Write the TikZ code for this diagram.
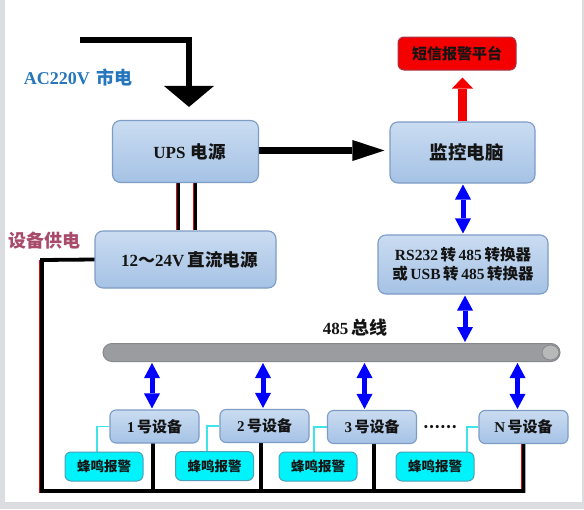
\documentclass[tikz,border=0pt]{standalone}
\usepackage{fontspec}
\setmainfont{Liberation Serif}
\newfontfamily\cjk{Noto Sans CJK SC}
\usetikzlibrary{arrows.meta,backgrounds}
\definecolor{bggrey}{HTML}{DCDDE0}
\definecolor{boxtop}{HTML}{CADCF1}
\definecolor{boxbot}{HTML}{A5C2E5}
\definecolor{boxedge}{HTML}{7D9CC6}
\definecolor{txt}{HTML}{141414}
\definecolor{redfill}{HTML}{F40000}
\definecolor{rededge}{HTML}{A0384A}
\definecolor{cyanfill}{HTML}{00F2FA}
\definecolor{cyanedge}{HTML}{4F9FB8}
\definecolor{busfill}{HTML}{9B9C9F}
\definecolor{busedge}{HTML}{86888C}
\definecolor{capfill}{HTML}{B8B8B8}
\definecolor{arrblue}{HTML}{0000FF}
\definecolor{labblue}{HTML}{2576BD}
\definecolor{mauve}{HTML}{A84A6A}
\definecolor{cyanline}{HTML}{3FE3EA}
\definecolor{wirered}{HTML}{D01010}
\tikzset{
  bluebox/.style={draw=boxedge, line width=1.1pt, rounded corners=8pt,
    top color=boxtop, bottom color=boxbot, text=txt, inner sep=0pt,
    font=\bfseries\fontsize{17}{20}\selectfont},
  devbox/.style={bluebox, rounded corners=6pt, minimum width=89pt, minimum height=33pt,
    font=\bfseries\fontsize{15}{18}\selectfont},
  redbox/.style={draw=rededge, line width=1pt, rounded corners=6pt, fill=redfill,
    text=txt, inner sep=0pt, font=\bfseries\fontsize{15}{18}\selectfont},
  buzbox/.style={draw=cyanedge, line width=1pt, rounded corners=6pt, fill=cyanfill,
    text=txt, inner sep=0pt, minimum width=78pt, minimum height=29pt,
    font=\bfseries\fontsize{13.5}{16}\selectfont},
  busbar/.style={draw=busedge, line width=1pt, fill=busfill, rounded corners=9pt, inner sep=0pt},
  plainlab/.style={inner sep=0pt, text=txt, font=\bfseries\fontsize{17}{20}\selectfont},
  wire/.style={line width=3.8pt, draw=black, line join=miter, line cap=rect},
  redstripe/.style={line width=1.1pt, draw=wirered},
  cyanwire/.style={line width=1.6pt, draw=cyanline},
  barrow/.style={draw=arrblue, line width=5pt,
    {Triangle[length=15pt,width=16pt,line width=0pt]}-{Triangle[length=15pt,width=16pt,line width=0pt]},
    shorten <=1pt, shorten >=1pt},
  fatarrow/.style={draw=black, line width=7pt,
    -{Triangle[length=32pt,width=21pt,line width=0pt]}},
  acarrow/.style={draw=black, line width=6pt, line join=miter,
    -{Triangle[length=21pt,width=50pt,line width=0pt]}},
  redarrow/.style={draw=redfill, line width=9pt,
    -{Triangle[length=11pt,width=21pt,line width=0pt]}},
}
\begin{document}
\begin{tikzpicture}[x=1pt,y=-1pt]
\useasboundingbox (0,0) rectangle (584,509);
% boxes
\node[bluebox, minimum width=146pt, minimum height=62pt] (ups) at (185.5,151.5)
  {\hspace{8pt}UPS\hspace{0.3em}{\cjk\fontsize{17.5}{20}\selectfont 电源}};
\node[bluebox, minimum width=181pt, minimum height=57pt] (dc) at (185.5,259.5)
  {\hspace{8pt}\fontsize{17}{20}\selectfont 12{\cjk ～}24V\hspace{0.2em}{\cjk\fontsize{17.5}{20}\selectfont 直流电源}};
\node[bluebox, minimum width=145pt, minimum height=61pt] (mon) at (462.5,152.5)
  {\hspace{8pt}{\cjk\fontsize{18.5}{20}\selectfont 监控电脑}};
\node[redbox, minimum width=118pt, minimum height=33pt] (sms) at (457,53.5)
  {{\cjk 短信报警平台}};
\node[bluebox, minimum width=170pt, minimum height=59pt, align=center,
  font=\bfseries\fontsize{15.5}{19}\selectfont] (conv) at (463,264.5)
  {RS232\,{\cjk 转}\,485\,{\cjk 转换器}\\{\cjk 或}\,USB\,{\cjk 转}\,485\,{\cjk 转换器}};
\node[busbar, minimum width=457pt, minimum height=18pt] (bus) at (331.5,352.5) {};
\filldraw[fill=capfill, draw=busedge, line width=0.8pt] (550.5,352.5) ellipse [x radius=8.5, y radius=7.5];
\node[plainlab] (buslab) at (355,328) {485\,{\cjk\fontsize{18}{20}\selectfont 总线}};
\node[devbox] (d1) at (154.5,426.5) {1\,{\cjk 号设备}};
\node[devbox] (d2) at (264.5,426) {2\,{\cjk 号设备}};
\node[devbox] (d3) at (372,427) {3\,{\cjk 号设备}};
\node[devbox] (dn) at (523.5,427) {N\,{\cjk 号设备}};
\node[plainlab, font=\bfseries\fontsize{15}{18}\selectfont] (dots) at (440,427) {{\cjk ……}};
\node[buzbox] (b1) at (104,466.5) {{\cjk 蜂鸣报警}};
\node[buzbox] (b2) at (214.5,466) {{\cjk 蜂鸣报警}};
\node[buzbox] (b3) at (318,466.5) {{\cjk 蜂鸣报警}};
\node[buzbox] (b4) at (435,466.5) {{\cjk 蜂鸣报警}};
\node[inner sep=0pt, text=labblue, font=\bfseries\fontsize{18}{20}\selectfont] (aclab) at (78,77)
  {AC220V\hspace{0.35em}{\cjk 市电}};
\node[inner sep=0pt, text=mauve, font=\bfseries\fontsize{18}{20}\selectfont] (pwrlab) at (45,241)
  {{\cjk 设备供电}};
\coordinate (acin) at (80,39.5);
\coordinate (c1) at (42,260);
\coordinate (c2) at (42,491);
\begin{pgfonlayer}{background}
\fill[bggrey] (0,0) rectangle (584,509);
\fill[white] (5,0) rectangle (582,502);
% AC input
\draw[acarrow, shorten >=13pt] (acin) -| ([xshift=3.5pt]ups.north);
% UPS to monitor PC
\draw[fatarrow, shorten >=5pt] ([yshift=1pt]ups.east) -- ([yshift=1pt]ups.east -| mon.west);
% monitor PC to SMS
\draw[redarrow, shorten >=7pt] ([xshift=5.5pt]sms.south |- mon.north) -- ([xshift=5.5pt]sms.south);
% UPS to DC supply wires
\draw[wire, line cap=butt] ([xshift=-7pt]ups.south) -- ([xshift=-7pt]dc.north);
\draw[redstripe] ([xshift=-9.3pt]ups.south) -- ([xshift=-9.3pt]dc.north);
\draw[wire, line cap=butt] ([xshift=10pt]ups.south) -- ([xshift=10pt]dc.north);
\draw[redstripe] ([xshift=7.7pt]ups.south) -- ([xshift=7.7pt]dc.north);
% supply loop
\draw[wire] (dc.west) -- (c1) -- (c2) -- (c2 -| dn.south) -- (dn.south);
\draw[redstripe] ([xshift=-2.4pt]c1) -- ([xshift=-2.4pt,yshift=-1.9pt]c2);
\draw[redstripe] ([xshift=-2.4pt]dn.south) -- ([xshift=-2.4pt,yshift=1.9pt]dn.south |- c2);
\draw[wire] ([xshift=-1.5pt]d1.south) -- ([xshift=-1.5pt]d1.south |- c2);
\draw[wire] ([xshift=-3.5pt]d2.south) -- ([xshift=-3.5pt]d2.south |- c2);
\draw[wire] ([xshift=2pt]d3.south) -- ([xshift=2pt]d3.south |- c2);
% buzzers
\draw[cyanwire] (d1.west) -| ([xshift=-7pt]b1.north);
\draw[cyanwire] (d2.west) -| ([xshift=-7.5pt]b2.north);
\draw[cyanwire] (d3.west) -| ([xshift=-4pt]b3.north);
\draw[cyanwire] (dn.west) -| ([xshift=32pt]b4.north);
% 485 links
\draw[barrow] ([xshift=0.5pt]mon.south) -- ([xshift=0.5pt]mon.south |- conv.north);
\draw[barrow] ([xshift=2pt]conv.south) -- ([xshift=2pt]conv.south |- bus.north);
\draw[barrow] ([xshift=-2.5pt]d1.north |- bus.south) -- ([xshift=-2.5pt]d1.north);
\draw[barrow] ([xshift=-1.5pt]d2.north |- bus.south) -- ([xshift=-1.5pt]d2.north);
\draw[barrow] ([xshift=-7.5pt]d3.north |- bus.south) -- ([xshift=-7.5pt]d3.north);
\draw[barrow] ([xshift=-6pt]dn.north |- bus.south) -- ([xshift=-6pt]dn.north);
\end{pgfonlayer}
\end{tikzpicture}
\end{document}
